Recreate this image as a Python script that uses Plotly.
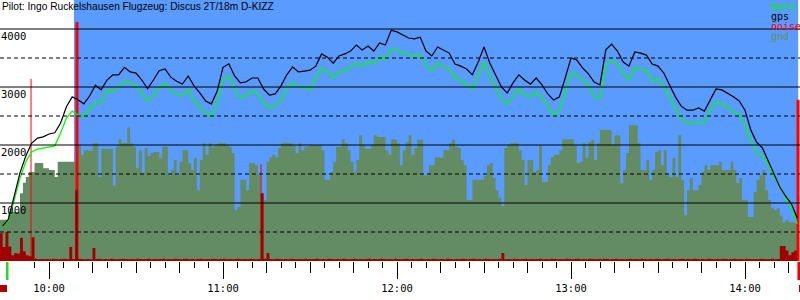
import pandas as pd
import plotly.graph_objects as go

DAY = "2011-06-26"
TITLE = "Pilot: Ingo Ruckelshausen Flugzeug: Discus 2T/18m D-KIZZ"

# ---- altitude track (m), one sample every 2 minutes starting 09:44 ----
track_start = "09:44"
gps_alt = [
    600, 720, 1120, 1520, 1810, 2030, 2120, 2140, 2190, 2210,
    2380, 2660, 2830, 2780, 2710, 2845, 3030, 2950, 3120, 3210,
    3210, 3340, 3260, 3240, 3120, 2970, 3120, 3280, 3310, 3170,
    3100, 3050, 3190, 3020, 2900, 2760, 2710, 2930, 3340, 3400,
    3190, 3070, 3090, 3155, 3155, 2965, 2860, 2880, 3020, 3210,
    3345, 3260, 3275, 3290, 3360, 3570, 3515, 3410, 3535, 3570,
    3620, 3725, 3640, 3705, 3620, 3760, 3725, 3980, 3950, 3895,
    3845, 3830, 3860, 3620, 3535, 3690, 3640, 3585, 3395, 3360,
    3310, 3210, 3430, 3690, 3415, 3210, 3000, 2895, 3070, 3210,
    3120, 3050, 3155, 3035, 2880, 2775, 2830, 3155, 3500, 3465,
    3330, 3225, 3085, 3035, 3640, 3740, 3620, 3430, 3360, 3605,
    3585, 3550, 3395, 3360, 3240, 3035, 2830, 2670, 2600, 2600,
    2640, 2585, 2775, 2965, 2950, 2895, 2830, 2760, 2600, 2260,
    2050, 1950, 1725, 1485, 1275, 1120, 985, 740,
]
baro_alt = [
    590, 690, 1050, 1430, 1710, 1880, 1930, 1950, 1965, 1985,
    2205, 2465, 2585, 2515, 2500, 2620, 2725, 2725, 2950, 2915,
    3000, 3105, 3070, 3020, 2895, 2760, 2860, 2985, 3070, 2950,
    2860, 2860, 2950, 2760, 2655, 2550, 2485, 2740, 3120, 3190,
    2965, 2810, 2860, 2930, 2880, 2725, 2640, 2690, 2775, 2985,
    3085, 2985, 3015, 2950, 3155, 3330, 3260, 3155, 3260, 3275,
    3345, 3415, 3360, 3430, 3395, 3535, 3465, 3660, 3640, 3585,
    3570, 3535, 3550, 3380, 3275, 3415, 3345, 3310, 3170, 3105,
    3050, 2965, 3205, 3430, 3190, 2985, 2795, 2705, 2830, 2965,
    2860, 2830, 2915, 2810, 2670, 2515, 2585, 2915, 3240, 3205,
    3120, 3035, 2845, 2810, 3380, 3465, 3395, 3240, 3120, 3330,
    3295, 3295, 3105, 3140, 3015, 2830, 2620, 2450, 2380, 2380,
    2395, 2395, 2605, 2740, 2705, 2655, 2570, 2535, 2345, 2070,
    1880, 1810, 1655, 1450, 1295, 1085, 915, 640,
]

# ---- ground elevation and noise level, one value per minute from 09:43 ----
minute_start = "09:43"
gnd_alt = [
    710, 710, 710, 850, 850, 850, 850, 1170, 1350, 1450,
    1535, 1535, 1690, 1690, 1690, 1600, 1600, 1570, 1570, 1450,
    1710, 1710, 1710, 1710, 1710, 1710, 1710, 2000, 1830, 1910,
    1910, 1900, 2030, 2030, 1450, 1930, 1930, 1930, 1930, 1300,
    1970, 2100, 2030, 2030, 2300, 2030, 1970, 1600, 1910, 1520,
    1950, 1810, 1860, 1880, 1880, 1780, 1970, 1970, 1480, 1570,
    1740, 1480, 1710, 1910, 1910, 1690, 1570, 1780, 1220, 1740,
    2030, 1830, 2030, 1970, 2000, 2030, 2030, 2030, 2000, 1970,
    1860, 880, 930, 1400, 1400, 1220, 1690, 1690, 1650, 1480,
    1170, 1050, 1710, 1790, 1830, 1790, 1950, 2030, 2030, 2030,
    2030, 2000, 1860, 2030, 1910, 1970, 1980, 2000, 2000, 2000,
    2000, 1910, 1400, 1400, 1535, 1710, 1970, 1970, 2100, 2030,
    1910, 1710, 1535, 1740, 2170, 2000, 1930, 1930, 2000, 2170,
    2140, 2140, 2140, 1910, 1830, 2100, 2090, 2030, 1650, 1910,
    2050, 2170, 1830, 1950, 2090, 2090, 1480, 1480, 1650, 1650,
    1790, 1790, 1780, 1910, 1910, 2030, 2090, 1970, 1950, 1740,
    1650, 1050, 1050, 1400, 1400, 1400, 1400, 1470, 1650, 1690,
    1430, 1220, 1090, 950, 1950, 2000, 2030, 2030, 2030, 1910,
    1740, 1310, 1740, 1740, 1535, 1570, 2000, 1360, 1360, 1650,
    1790, 1830, 1830, 1910, 2100, 2100, 2100, 2100, 2000, 1690,
    1710, 2030, 1780, 2050, 2090, 1740, 2030, 2260, 2260, 2260,
    2260, 2000, 2170, 2170, 1340, 1570, 1860, 2340, 2340, 2340,
    2030, 1570, 1570, 1740, 1400, 1570, 1880, 1910, 1650, 1910,
    1480, 1450, 1780, 1450, 2170, 1400, 790, 1220, 1430, 1220,
    1220, 1310, 1535, 1650, 1570, 1650, 1650, 1650, 1710, 1570,
    1570, 1570, 1710, 1570, 1345, 1430, 1050, 1050, 760, 760,
    1190, 1400, 1480, 1570, 1220, 1050, 910, 880, 910, 780,
    670, 710, 670, 670, 650, 650,
]
noise_level = [
    480, 240, 500, 250, 100, 140, 130, 400, 170, 100,
    80, 410, 40, 30, 35, 30, 35, 30, 40, 35,
    30, 35, 40, 30, 240, 35, 1220, 40, 35, 30,
    35, 30, 225, 35, 40, 30, 35, 30, 40, 35,
    30, 35, 40, 35, 30, 35, 30, 40, 35, 30,
    35, 40, 30, 35, 30, 35, 40, 30, 35, 30,
    40, 35, 30, 35, 40, 30, 35, 30, 35, 40,
    30, 35, 30, 40, 35, 30, 35, 40, 30, 35,
    30, 35, 40, 30, 35, 30, 40, 35, 30, 35,
    1170, 40, 140, 35, 30, 40, 35, 30, 35, 30,
    40, 35, 30, 35, 30, 40, 35, 30, 35, 40,
    30, 35, 30, 40, 35, 30, 35, 30, 40, 35,
    30, 35, 40, 30, 35, 30, 35, 40, 30, 35,
    30, 40, 35, 30, 35, 30, 40, 35, 30, 35,
    40, 30, 35, 30, 35, 40, 30, 35, 30, 40,
    35, 30, 35, 30, 40, 35, 30, 35, 30, 40,
    35, 30, 35, 40, 30, 35, 30, 40, 35, 30,
    35, 30, 40, 140, 30, 35, 30, 40, 35, 30,
    35, 40, 30, 35, 30, 35, 40, 30, 35, 30,
    40, 35, 30, 35, 30, 40, 35, 30, 35, 40,
    30, 35, 30, 40, 35, 30, 35, 30, 40, 35,
    30, 35, 40, 30, 35, 30, 35, 40, 30, 35,
    30, 40, 35, 30, 35, 30, 40, 35, 30, 35,
    40, 30, 35, 30, 35, 40, 30, 35, 30, 40,
    35, 30, 35, 30, 40, 35, 30, 35, 30, 40,
    35, 30, 35, 40, 30, 35, 30, 40, 35, 30,
    35, 30, 40, 35, 30, 35, 40, 30, 35, 260,
    260, 180, 100, 150, 180, 300,
]

# ---- noise peaks ----
noise_peak_times = ["09:53:48", "10:09:39", "11:13:06", "14:18:17"]
noise_peak_values = [3140, 4120, 1670, 2780]

# ---- flight phases / event markers ----
glide_start, glide_end = "10:08:36", "14:18:20"
event_marks = [  # (from, to, row, colour)
    ("09:45:10", "09:46:02", "upper", "#22dd22"),
    ("14:18:05", "14:18:58", "upper", "#ee0000"),
    ("09:43:06", "09:45:31", "lower", "#aa0000"),
    ("14:18:38", "14:18:58", "lower", "#aa0000"),
]

y_ticks = [1000, 2000, 3000, 4000]
grid_levels = [500, 1000, 1500, 2000, 2500, 3000, 3500, 4000]
legend_items = [("baro", "#00ee00"), ("gps", "#000000"), ("noise", "#ff0000"), ("gnd", "#6a8c62")]

# ---------------------------------------------------------------
def ts(hm):
    return pd.Timestamp(f"{DAY} {hm}")

track_t = pd.date_range(ts(track_start), periods=len(gps_alt), freq="2min")
minute_t = pd.date_range(ts(minute_start), periods=len(gnd_alt), freq="1min")

BLUE = "#5a9bff"
GND = "#648c64"
DARKRED = "#a00000"
MONO = "DejaVu Sans Mono"

fig = go.Figure()
fig.add_trace(go.Scatter(x=minute_t, y=gnd_alt, mode="lines", line=dict(width=0, shape="hv"),
                         fill="tozeroy", fillcolor=GND, name="gnd"))
peak_widths = [1, 3, 1, 3]
for t, v, w in zip(noise_peak_times, noise_peak_values, peak_widths):
    fig.add_trace(go.Scatter(x=[ts(t), ts(t)], y=[0, v], mode="lines",
                             line=dict(color="#ff0000", width=w), name="noise"))
fig.add_trace(go.Scatter(x=minute_t, y=noise_level, mode="lines", line=dict(width=0, shape="hv"),
                         fill="tozeroy", fillcolor=DARKRED, name="noise level"))
fig.add_trace(go.Scatter(x=track_t, y=baro_alt, mode="lines", line=dict(color="#00ff00", width=1.3),
                         name="baro", xaxis="x2"))
fig.add_trace(go.Scatter(x=track_t, y=gps_alt, mode="lines", line=dict(color="#000000", width=1.2),
                         name="gps", xaxis="x2"))

x_range = [ts("09:43:06"), ts("14:18:58")]

fig.add_shape(type="rect", xref="x", yref="paper", x0=ts(glide_start), x1=ts(glide_end),
              y0=0, y1=1, fillcolor=BLUE, line=dict(width=0), layer="below")
for lv in grid_levels:
    fig.add_shape(type="line", xref="paper", yref="y", x0=0, x1=1, y0=lv, y1=lv,
                  line=dict(color="black", width=1, dash="solid" if lv % 1000 == 0 else "4px,3px"),
                  layer="above")
rows = {"upper": (-0.004, -0.073), "lower": (-0.092, -0.119)}
for a, b, row, col in event_marks:
    fig.add_shape(type="rect", xref="x", yref="paper", x0=ts(a), x1=ts(b),
                  y0=rows[row][0], y1=rows[row][1], fillcolor=col, line=dict(width=0), layer="above")

fig.add_annotation(text=TITLE, xref="paper", yref="paper", x=0.0, y=0.975, xanchor="left",
                   yanchor="middle", showarrow=False, font=dict(family="Liberation Sans", size=10.2, color="black"))
for i, (name, col) in enumerate(legend_items):
    fig.add_annotation(text=name, xref="paper", yref="paper", x=769 / 800, y=0.975 - i * 0.0385,
                       xanchor="left", yanchor="middle", showarrow=False,
                       font=dict(family=MONO, size=10, color=col))

fig.update_layout(
    width=800, height=300, margin=dict(l=0, r=0, t=0, b=39),
    plot_bgcolor="white", paper_bgcolor="white", showlegend=False,
    xaxis=dict(type="date", range=x_range, showgrid=False, zeroline=False, showline=False,
               ticks="outside", ticklen=11, tickwidth=1, tickcolor="black",
               dtick=900000, tick0=f"{DAY} 00:00", showticklabels=False,
               minor=dict(ticks="outside", ticklen=6, tickwidth=1, tickcolor="black", dtick=300000,
                          tick0=f"{DAY} 00:00", showgrid=False)),
    xaxis2=dict(type="date", range=x_range, overlaying="x", side="bottom", showgrid=False,
                zeroline=False, showline=False, ticks="outside", ticklen=17, tickwidth=1,
                tickcolor="black", dtick=3600000, tick0=f"{DAY} 00:00", tickformat="%H:%M",
                tickfont=dict(family=MONO, size=10.5, color="black")),
    yaxis=dict(range=[0, 4500], showgrid=False, zeroline=False, showline=False, ticks="",
               tickvals=y_ticks, ticklabelposition="inside", ticklabelshift=7,
               ticklabelstandoff=-2,
               tickfont=dict(family=MONO, size=10.5, color="black")),
)

fig.write_html("out.html")
